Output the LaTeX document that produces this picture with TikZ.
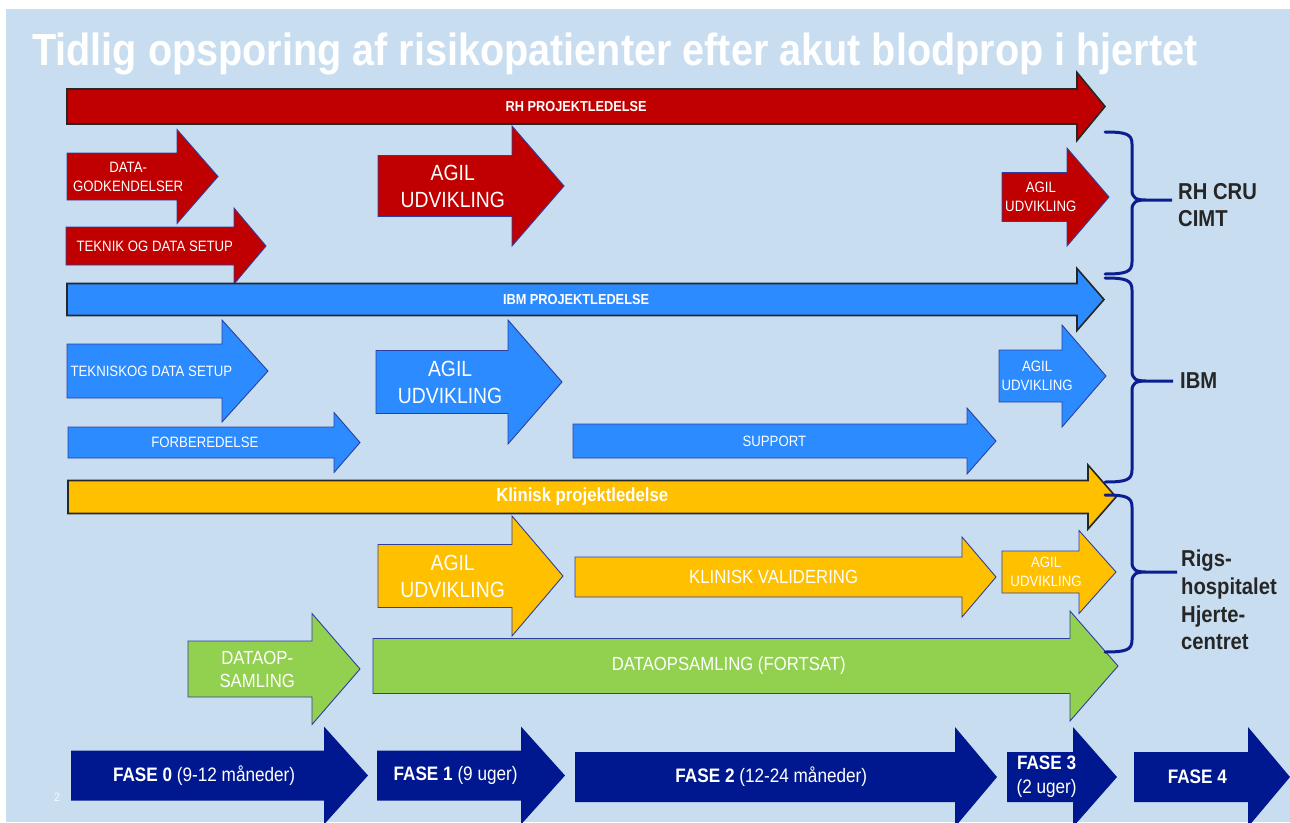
\documentclass[tikz,border=0pt]{standalone}
\usepackage{fontspec}
\setmainfont{Liberation Sans}[FakeStretch=0.88]
\usepackage{xcolor}
\usepackage{tikz}

\definecolor{slidebg}{HTML}{C8DEF0}
\definecolor{rhred}{HTML}{C00000}
\definecolor{ibmblue}{HTML}{2B8BFF}
\definecolor{klinyellow}{HTML}{FFC000}
\definecolor{datagreen}{HTML}{92D050}
\definecolor{fasenavy}{HTML}{00188F}
\definecolor{partline}{HTML}{2F3F9F}
\definecolor{bracenavy}{HTML}{0B1D8F}
\definecolor{orgtext}{HTML}{262626}

\newcommand{\fs}[2]{\fontsize{#1}{#2}\selectfont}

\newcommand{\fatarrow}[9][]{%
\path[#1] (#3,#6-#7) -- (#4,#6-#7) -- (#4,#6-#8) -- (#5,#6) -- (#4,#6+#8) -- (#4,#6+#7) -- (#3,#6+#7) -- cycle
 ({(#3+#4)/2+0.15*(#5-#4)},#6) node[lbl] (#2) {#9};}

\newcommand{\orgbrace}[4]{%
\draw[orgbr] (1105,#1) .. controls (1126,#1) and (1132,#1+2) .. (1132,#1+12) -- (1132,#2-10)
 .. controls (1132,#2-2) and (1136,#2) .. (1146,#2) -- (#4,#2) -- (1146,#2)
 .. controls (1136,#2) and (1132,#2+2) .. (1132,#2+10) -- (1132,#3-12)
 .. controls (1132,#3-2) and (1126,#3) .. (1105,#3);}

\begin{document}
\begin{tikzpicture}[x=1pt,y=-1pt,
lbl/.style={text=white,align=center,inner sep=0pt},
lead/.style={draw=black!85,line width=1.6pt},
part/.style={draw=partline,line width=0.9pt},
fase/.style={fill=fasenavy,font=\fs{19.5}{24}},
smalltxt/.style={font=\fs{15}{19}},
midtxt/.style={font=\fs{19}{23}},
bigtxt/.style={font=\fs{22}{27}},
leadtxt/.style={font=\fs{14.5}{16}\bfseries},
orgbr/.style={draw=bracenavy,line width=3pt,line cap=round},
orglbl/.style={text=orgtext,align=left,anchor=west,inner sep=0pt,font=\fs{23}{27.7}\bfseries}]
\fill[white] (0,0) rectangle (1290,822);
\fill[slidebg] (6,9) rectangle (1290,822);
\useasboundingbox (0,0) rectangle (1290,822);
\node[anchor=base west,inner sep=0pt,text=white,font=\fs{45}{50}\bfseries] (title) at (32,65) {Tidlig opsporing af risikopatienter efter akut blodprop i hjertet};
\node[text=white!80!slidebg,inner sep=0pt,font=\fs{12}{14}] (pagenum) at (57,797) {2};

\fatarrow[lead,fill=rhred,leadtxt]{rhlead}{67}{1077}{1105}{106.5}{17.5}{34}{RH PROJEKTLEDELSE}
\fatarrow[part,fill=rhred,smalltxt]{rhgodk}{67}{177}{218}{176.5}{23.5}{47}{DATA-\\GODKENDELSER}
\fatarrow[part,fill=rhred,smalltxt]{rhsetup}{66}{234}{266}{246}{19}{38}{TEKNIK OG DATA SETUP}
\fatarrow[part,fill=rhred,bigtxt]{rhagil}{378}{512}{564}{186}{30.5}{60}{AGIL\\UDVIKLING}
\fatarrow[part,fill=rhred,smalltxt]{rhagilb}{1002}{1067}{1109}{197}{24.5}{49}{AGIL\\UDVIKLING}

\fatarrow[lead,fill=ibmblue,leadtxt]{ibmlead}{67}{1077}{1104}{299.5}{16}{31}{IBM PROJEKTLEDELSE}
\fatarrow[part,fill=ibmblue,smalltxt]{ibmsetup}{67}{222}{268}{371}{27}{51}{TEKNISKOG DATA SETUP}
\fatarrow[part,fill=ibmblue,bigtxt]{ibmagil}{376}{508}{562}{382}{31.5}{62}{AGIL\\UDVIKLING}
\fatarrow[part,fill=ibmblue,smalltxt]{ibmagilb}{999}{1062}{1106}{376}{26}{51}{AGIL\\UDVIKLING}
\fatarrow[part,fill=ibmblue,smalltxt]{ibmforb}{68}{334}{360}{442.5}{15.5}{30}{FORBEREDELSE}
\fatarrow[part,fill=ibmblue,smalltxt]{ibmsupport}{573}{967}{996}{441}{17}{33}{SUPPORT}

\fatarrow[lead,fill=klinyellow,font=\fs{19}{22}\bfseries]{kllead}{68}{1088}{1116}{497}{16.5}{32}{Klinisk projektledelse}
\fatarrow[part,fill=klinyellow,bigtxt]{klagil}{378}{512}{563}{576}{31.5}{60}{AGIL\\UDVIKLING}
\fatarrow[part,fill=klinyellow,midtxt]{klvalid}{575}{962}{996}{577}{20}{40}{KLINISK VALIDERING}
\fatarrow[part,fill=klinyellow,smalltxt]{klagilb}{1002}{1079}{1116}{572}{21}{41.5}{AGIL\\UDVIKLING}
\fatarrow[part,fill=datagreen,midtxt]{dataop}{188}{312}{360}{669}{28}{55.5}{DATAOP-\\SAMLING}
\fatarrow[part,fill=datagreen,midtxt]{datafort}{373}{1070}{1118}{666}{27.5}{55}{DATAOPSAMLING (FORTSAT)}

\fatarrow[fase]{fase0}{71}{324}{368}{775.5}{25}{49}{\textbf{FASE 0} (9-12 måneder)}
\fatarrow[fase]{fase1}{377}{521}{565}{775.5}{25}{49}{\textbf{FASE 1} (9 uger)}
\fatarrow[fase]{fase2}{575}{955}{997}{777}{25}{50}{\textbf{FASE 2} (12-24 måneder)}
\fatarrow[fase]{fase3}{1007}{1073}{1117}{777}{25}{50}{\textbf{FASE 3}\\(2 uger)}
\fatarrow[fase]{fase4}{1134}{1248}{1290}{777}{25}{50}{\textbf{FASE 4}}

\orgbrace{132}{200}{274}{1172}
\orgbrace{278}{381}{482}{1173}
\orgbrace{495}{572}{652}{1177}
\node[orglbl] (rhcru) at (1178,205) {RH CRU\\CIMT};
\node[orglbl] (ibm) at (1180,381) {IBM};
\node[orglbl] (rigs) at (1181,600) {Rigs-\\hospitalet\\Hjerte-\\centret};
\end{tikzpicture}
\end{document}
